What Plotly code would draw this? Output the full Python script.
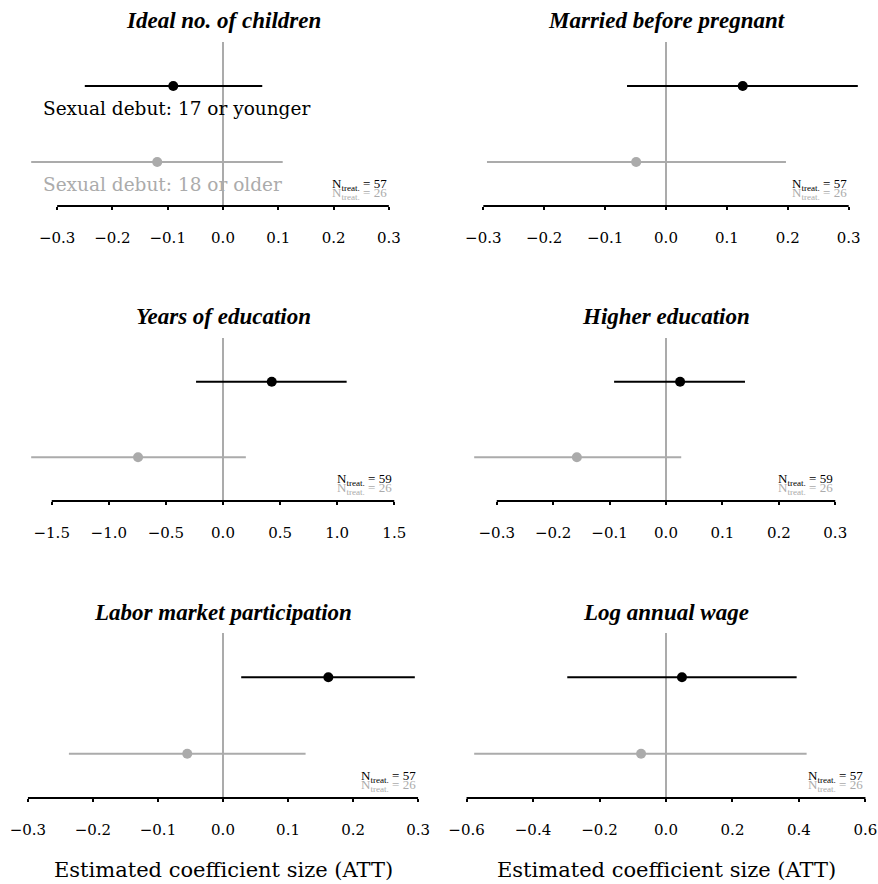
import plotly.graph_objects as go

# ---------------- data ----------------
outcomes = ["Ideal no. of children", "Married before pregnant", "Years of education",
            "Higher education", "Labor market participation", "Log annual wage"]
young_est = [-0.090, 0.126, 0.427, 0.025, 0.162, 0.048]
young_lo = [-0.250, -0.064, -0.236, -0.092, 0.028, -0.297]
young_hi = [0.071, 0.315, 1.083, 0.140, 0.295, 0.393]
old_est = [-0.119, -0.049, -0.744, -0.158, -0.055, -0.075]
old_lo = [-0.347, -0.294, -1.680, -0.340, -0.237, -0.577]
old_hi = [0.108, 0.197, 0.200, 0.027, 0.127, 0.423]
n_young = [57, 57, 59, 59, 57, 57]
n_old = [26, 26, 26, 26, 26, 26]
tick_max = [0.3, 0.3, 1.5, 0.3, 0.3, 0.6]
tick_step = [0.1, 0.1, 0.5, 0.1, 0.1, 0.2]
group_labels = ["Sexual debut: 17 or younger", "Sexual debut: 18 or older"]
axis_title = "Estimated coefficient size (ATT)"

# ---------------- styling ----------------
W, H = 878, 884
BLACK = "#000000"
GRAY = "#ABABAB"
SERIF = "DejaVu Serif"
TITLE_FONT = "Liberation Serif"
col_center = [223, 666]
half_w = 211
row_top = [42, 338, 633]
row_bot = [206, 501, 798]
title_y = [20, 316, 612]
y_range = [0.42, 2.58]


def fx(p):
    return p / W


def fy(p):
    return 1 - p / H


def fmt(v):
    s = f"{v:.1f}"
    return s.replace("-", "\u2212")


fig = go.Figure()
layout = dict(width=W, height=H, margin=dict(l=0, r=0, t=0, b=0, pad=0), autosize=False,
              paper_bgcolor="white", plot_bgcolor="white", showlegend=False,
              template="none")
shapes = []
annotations = []

for i in range(6):
    r, c = divmod(i, 2)
    k = "" if i == 0 else str(i + 1)
    xa, ya = "x" + k, "y" + k
    m = max(abs(v) for v in (young_lo[i], young_hi[i], old_lo[i], old_hi[i]))
    half = 1.1 * m
    n_steps = int(round(2 * tick_max[i] / tick_step[i]))
    tv = [round(-tick_max[i] + j * tick_step[i], 6) for j in range(n_steps + 1)]
    layout["xaxis" + k] = dict(
        domain=[fx(col_center[c] - half_w), fx(col_center[c] + half_w)],
        range=[-half, half], anchor=ya, tickvals=tv, ticktext=[fmt(v) for v in tv],
        ticks="outside", ticklen=3, tickwidth=2, tickcolor=BLACK,
        showgrid=False, zeroline=False, showline=False, ticklabelstandoff=15,
        automargin=False,
        tickfont=dict(family=SERIF, size=15, color=BLACK), fixedrange=True)
    layout["yaxis" + k] = dict(
        domain=[fy(row_bot[r]), fy(row_top[r])], range=y_range, anchor=xa,
        visible=False, fixedrange=True, automargin=False, showgrid=False, zeroline=False)

    # zero line
    shapes.append(dict(type="line", xref=xa, yref=ya + " domain", x0=0, x1=0, y0=0, y1=1,
                       line=dict(color=GRAY, width=2), layer="below"))
    # axis line between outer ticks
    shapes.append(dict(type="line", xref=xa, yref=ya + " domain", x0=tv[0], x1=tv[-1],
                       y0=0, y1=0, line=dict(color=BLACK, width=2), layer="above"))

    for est, lo, hi, yv, col in ((young_est[i], young_lo[i], young_hi[i], 2, BLACK),
                                 (old_est[i], old_lo[i], old_hi[i], 1, GRAY)):
        fig.add_trace(go.Scatter(
            x=[est], y=[yv], xaxis=xa, yaxis=ya, mode="markers",
            marker=dict(color=col, size=10, line=dict(width=0)),
            error_x=dict(type="data", symmetric=False, array=[hi - est],
                         arrayminus=[est - lo], thickness=2, width=0, color=col),
            hoverinfo="skip"))

    # panel title
    annotations.append(dict(text="<b><i>" + outcomes[i] + "</i></b>", xref=xa, x=0,
                            yref="paper", y=fy(title_y[r]), showarrow=False,
                            xanchor="center", yanchor="middle",
                            font=dict(family=TITLE_FONT, size=23, color=BLACK)))
    # N labels
    annotations.append(dict(text=f"N<sub>treat.</sub> = {n_young[i]}", xref=xa, x=tv[-1],
                            yref=ya, y=0.70, showarrow=False, xanchor="right",
                            yanchor="middle",
                            font=dict(family=TITLE_FONT, size=13, color=BLACK)))
    annotations.append(dict(text=f"N<sub>treat.</sub> = {n_old[i]}", xref=xa, x=tv[-1],
                            yref=ya, y=0.58, showarrow=False, xanchor="right",
                            yanchor="middle",
                            font=dict(family=TITLE_FONT, size=13, color=GRAY)))
    if r == 2:
        annotations.append(dict(text=axis_title, xref=xa, x=0, yref="paper", y=fy(870),
                                showarrow=False, xanchor="center", yanchor="middle",
                                font=dict(family=SERIF, size=21, color=BLACK)))

# group labels in first panel
annotations.append(dict(text=group_labels[0], xref="x", x=-0.33, yref="y", y=1.70,
                        showarrow=False, xanchor="left", yanchor="middle",
                        font=dict(family=SERIF, size=18.5, color=BLACK)))
annotations.append(dict(text=group_labels[1], xref="x", x=-0.33, yref="y", y=0.70,
                        showarrow=False, xanchor="left", yanchor="middle",
                        font=dict(family=SERIF, size=18.5, color=GRAY)))

layout["shapes"] = shapes
layout["annotations"] = annotations
fig.update_layout(**layout)
fig.write_html("out.html", config={"displayModeBar": False},
               post_script="document.body.style.margin='0';document.body.style.overflow='hidden';")
